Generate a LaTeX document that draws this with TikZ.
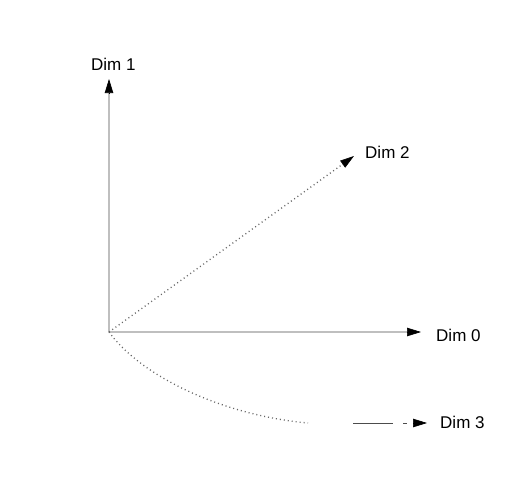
\documentclass[tikz,border=0pt]{standalone}
\usepackage{fontspec}
\setmainfont{Liberation Sans}
\usetikzlibrary{arrows.meta}
\begin{document}
\begin{tikzpicture}[x=1pt,y=-1pt,
  lbl/.style={anchor=base west,inner sep=0pt,font=\fontsize{17}{20}\selectfont},
  axisline/.style={draw=black!25,line width=1.2pt},
  dotline/.style={draw=black!60,line width=1.3pt,dash pattern=on 1pt off 3pt},
  tipstyle/.style={-{Triangle[length=14pt,width=8.5pt]},draw=black,fill=black,line width=0.6pt}]
\useasboundingbox (0,0) rectangle (509,479);
\fill[white] (0,0) rectangle (509,479);
\coordinate (O) at (109,332);
% Dim 1
\coordinate (t1) at (109,79);
\coordinate (b1) at (109,93);
\node[lbl] (d1) at (91,70) {Dim 1};
\draw[axisline] (O) -- (b1);
\draw[tipstyle] (b1) -- (t1);
% Dim 0
\coordinate (t0) at (421,332);
\coordinate (b0) at (407,332);
\node[lbl] (d0) at (436,341) {Dim 0};
\draw[axisline] (O) -- (b0);
\draw[tipstyle] (b0) -- (t0);
% Dim 2
\coordinate (t2) at (354,156);
\node[lbl] (d2) at (365,158) {Dim 2};
\coordinate (b2) at (342.6,164.2);
\draw[dotline] (O) -- (b2);
\draw[tipstyle] (b2) -- (t2);
% Dim 3
\coordinate (e3) at (308,423);
\coordinate (s3) at (353,423);
\coordinate (m3) at (393,423);
\coordinate (k1) at (403,423);
\coordinate (k2) at (407,423);
\coordinate (b3) at (413,423);
\coordinate (t3) at (427,423);
\node[lbl] (d3) at (440,428) {Dim 3};
\draw[dotline] (O) .. controls (140,375) and (220,415) .. (e3);
\draw[draw=black!70,line width=1pt] (s3) -- (m3);
\draw[draw=black!70,line width=1pt] (k1) -- (k2);
\draw[tipstyle] (b3) -- (t3);
\end{tikzpicture}
\end{document}
